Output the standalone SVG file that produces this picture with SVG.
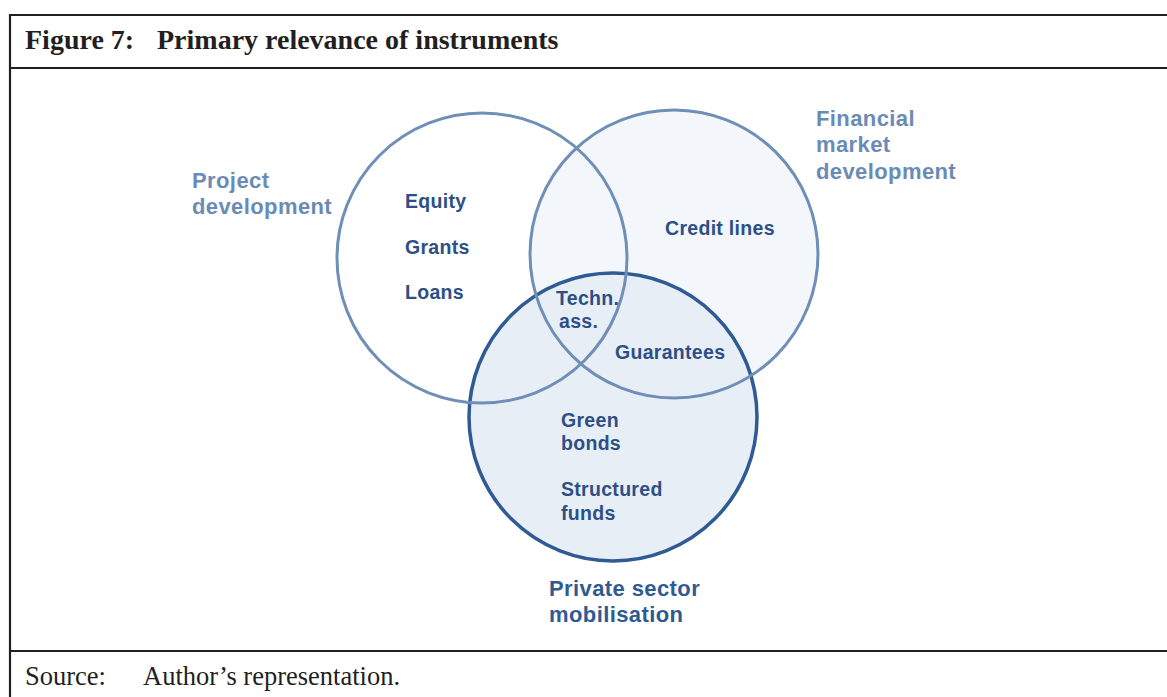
<svg xmlns="http://www.w3.org/2000/svg" width="1167" height="697" viewBox="0 0 1167 697">
<style>
.frame{stroke:#231f20;stroke-width:2.2;fill:none}
.title{font-family:"Liberation Serif",serif;font-weight:bold;font-size:28px;fill:#231f20}
.src{font-family:"Liberation Serif",serif;font-size:26.5px;fill:#231f20}
.outer{font-family:"Liberation Sans",Arial,sans-serif;font-weight:bold;font-size:22px;fill:#6a8bb5;letter-spacing:0.4px}
.inner{font-family:"Liberation Sans",Arial,sans-serif;font-weight:bold;font-size:19.5px;fill:#2d4f86;letter-spacing:0.3px}
.outerdark{font-family:"Liberation Sans",Arial,sans-serif;font-weight:bold;font-size:22px;fill:#2f5a93;letter-spacing:0.4px}
.ring{fill:none;stroke:#6f8fb6;stroke-width:3}
</style>
<rect width="1167" height="697" fill="#ffffff"/>
<g id="frame">
<line class="frame" x1="9" y1="15" x2="1167" y2="15"/>
<line class="frame" x1="10" y1="14" x2="10" y2="697"/>
<line class="frame" x1="9" y1="68" x2="1167" y2="68"/>
<line class="frame" x1="9" y1="651" x2="1167" y2="651"/>
<text class="title" x="25" y="49">Figure 7:</text>
<text class="title" x="157" y="49">Primary relevance of instruments</text>
<text class="src" x="25" y="685">Source:</text>
<text class="src" x="143" y="685">Author’s representation.</text>
</g>
<g id="fills">
<circle cx="674" cy="254" r="144" fill="#f3f6fa"/>
<circle cx="613" cy="417" r="144" fill="#e8eef6"/>
</g>
<g id="private-sector">
<circle cx="613" cy="417" r="144" fill="none" stroke="#2f5a93" stroke-width="3.5"/>
<text class="inner" x="561" y="427">Green</text>
<text class="inner" x="561" y="450">bonds</text>
<text class="inner" x="561" y="496">Structured</text>
<text class="inner" x="561" y="520">funds</text>
<text class="outerdark" x="549" y="596">Private sector</text>
<text class="outerdark" x="549" y="622">mobilisation</text>
</g>
<g id="project-development">
<circle class="ring" cx="482" cy="258" r="145"/>
<text class="outer" x="192" y="188">Project</text>
<text class="outer" x="192" y="214">development</text>
<text class="inner" x="405" y="208">Equity</text>
<text class="inner" x="405" y="254">Grants</text>
<text class="inner" x="405" y="299">Loans</text>
</g>
<g id="financial-market">
<circle class="ring" cx="674" cy="254" r="144"/>
<text class="outer" x="816" y="126">Financial</text>
<text class="outer" x="816" y="152">market</text>
<text class="outer" x="816" y="179">development</text>
<text class="inner" x="665" y="235">Credit lines</text>
</g>
<g id="overlaps">
<text class="inner" x="556" y="305">Techn.</text>
<text class="inner" x="559" y="328">ass.</text>
<text class="inner" x="615" y="359">Guarantees</text>
</g>
</svg>
